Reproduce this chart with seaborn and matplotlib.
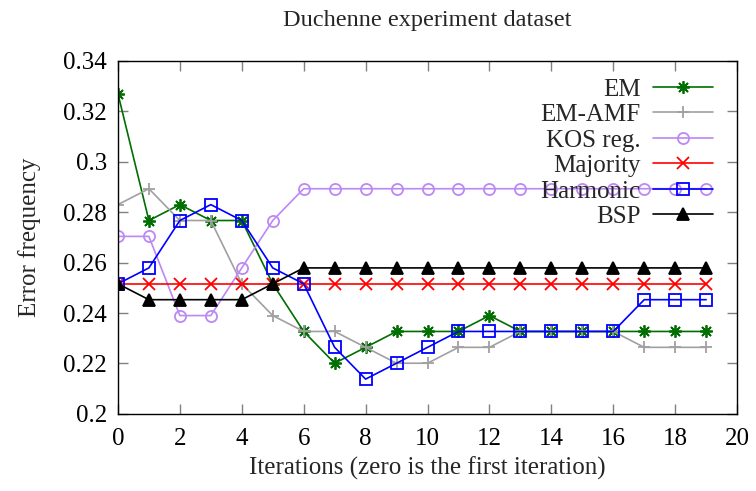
import numpy as np
import pandas as pd
import matplotlib
matplotlib.use("Agg")
import matplotlib.pyplot as plt
from matplotlib.ticker import FormatStrFormatter
import seaborn as sns

# -------------------- Data (error frequency per iteration) --------------------
iterations = list(range(20))
em = [0.3270, 0.2767, 0.2830, 0.2767, 0.2767, 0.2516, 0.2327, 0.2201, 0.2264, 0.2327,
      0.2327, 0.2327, 0.2390, 0.2327, 0.2327, 0.2327, 0.2327, 0.2327, 0.2327, 0.2327]
em_amf = [0.2830, 0.2893, 0.2767, 0.2767, 0.2516, 0.2390, 0.2327, 0.2327, 0.2264, 0.2201,
          0.2201, 0.2264, 0.2264, 0.2327, 0.2327, 0.2327, 0.2327, 0.2264, 0.2264, 0.2264]
kos_reg = [0.2704, 0.2704, 0.2390, 0.2390, 0.2579, 0.2767, 0.2893, 0.2893, 0.2893, 0.2893,
           0.2893, 0.2893, 0.2893, 0.2893, 0.2893, 0.2893, 0.2893, 0.2893, 0.2893, 0.2893]
majority = [0.2516] * 20
harmonic = [0.2516, 0.2579, 0.2767, 0.2830, 0.2767, 0.2579, 0.2516, 0.2264, 0.2138, 0.2201,
            0.2264, 0.2327, 0.2327, 0.2327, 0.2327, 0.2327, 0.2327, 0.2453, 0.2453, 0.2453]
bsp = [0.2516, 0.2453, 0.2453, 0.2453, 0.2453, 0.2516, 0.2579, 0.2579, 0.2579, 0.2579,
       0.2579, 0.2579, 0.2579, 0.2579, 0.2579, 0.2579, 0.2579, 0.2579, 0.2579, 0.2579]

series_names = ["EM", "EM-AMF", "KOS reg.", "Majority", "Harmonic", "BSP"]
series_values = [em, em_amf, kos_reg, majority, harmonic, bsp]

# -------------------- Style --------------------
styles = {
    "EM":       dict(color="#006e00", marker=(8, 2, 0), ms=9, mfc="#006e00"),
    "EM-AMF":   dict(color="#a0a0a0", marker="+", ms=9, mfc="#a0a0a0"),
    "KOS reg.": dict(color="#bb88f5", marker="o", ms=8, mfc="none"),
    "Majority": dict(color="#ff0000", marker="x", ms=8, mfc="#ff0000"),
    "Harmonic": dict(color="#0000ff", marker="s", ms=8, mfc="none"),
    "BSP":      dict(color="#000000", marker="^", ms=8, mfc="#000000"),
}
FS = 18

sns.set_style("ticks")
plt.rcParams["font.family"] = ["Liberation Serif", "DejaVu Serif"]

fig = plt.figure(figsize=(7.56, 4.91), dpi=100)
ax = fig.add_axes([0.156, 0.157, 0.975 - 0.156, 0.876 - 0.157])

for name, vals in zip(series_names, series_values):
    df = pd.DataFrame({"iteration": iterations, "error": vals})
    st = styles[name]
    sns.lineplot(data=df, x="iteration", y="error", ax=ax, label=name,
                 color=st["color"], marker=st["marker"], markersize=st["ms"],
                 markerfacecolor=st["mfc"], markeredgecolor=st["color"],
                 markeredgewidth=1.3, linewidth=1.2)

ax.set_xlim(0, 20)
ax.set_ylim(0.2, 0.34)
ax.set_xticks(np.arange(0, 21, 2))
ax.set_yticks(np.arange(0.2, 0.341, 0.02))
ax.yaxis.set_major_formatter(FormatStrFormatter("%g"))
ax.tick_params(direction="in", length=7, width=1, color="#808080",
               top=True, right=True, labelsize=FS, labelcolor="black")
ax.tick_params(axis="x", pad=10)
ax.tick_params(axis="y", pad=8)
for sp in ax.spines.values():
    sp.set_color("black")
    sp.set_linewidth(1.0)

ax.set_title("Duchenne experiment dataset", fontsize=17.5, pad=25)
ax.set_xlabel("Iterations (zero is the first iteration)", fontsize=FS, labelpad=5)
ax.set_ylabel("Error frequency", fontsize=FS, labelpad=16)

leg = ax.legend(loc="upper right", frameon=False, markerfirst=False, fontsize=FS,
                handlelength=2.4, handletextpad=0.5, labelspacing=0.12,
                borderaxespad=0, borderpad=0, bbox_to_anchor=(0.961, 0.951))

fig.savefig("out.png", dpi=100)
